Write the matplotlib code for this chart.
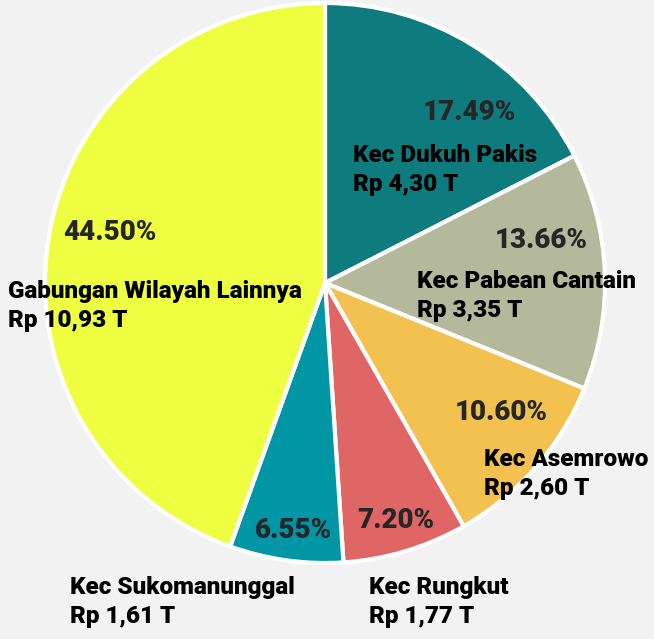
import matplotlib
matplotlib.use("Agg")
import matplotlib.pyplot as plt

# data
wilayah = ["Kec Dukuh Pakis", "Kec Pabean Cantain", "Kec Asemrowo",
           "Kec Rungkut", "Kec Sukomanunggal", "Gabungan Wilayah Lainnya"]
persen = [17.49, 13.66, 10.60, 7.20, 6.55, 44.50]
nilai = ["Rp 4,30 T", "Rp 3,35 T", "Rp 2,60 T", "Rp 1,77 T", "Rp 1,61 T", "Rp 10,93 T"]
warna = ["#0E7B7E", "#B3B99A", "#F2C14F", "#E06666", "#0096A6", "#EEFF41"]

# label layout (pixel positions in the 654x639 picture: left x, centre y)
pct_pos = [(423, 113), (495, 240), (455, 413), (357, 520), (255, 530), (63, 232)]
name_pos = [(353, 170), (417, 296), (484, 474), (369, 602), (70, 602), (8, 306)]

plt.rcParams["font.family"] = ["Roboto", "DejaVu Sans"]

W, H = 654, 639
CX, CY, R = 325, 283, 280

fig = plt.figure(figsize=(W / 100, H / 100), dpi=100, facecolor="#F2F2F2")
ax = fig.add_axes([(CX - R) / W, (H - CY - R) / H, 2 * R / W, 2 * R / H])
ax.set_facecolor("#F2F2F2")

ax.pie(persen, colors=warna, startangle=90, counterclock=False, radius=1,
       wedgeprops=dict(edgecolor="white", linewidth=3))
ax.set_xlim(-1, 1)
ax.set_ylim(-1, 1)
ax.set_aspect("equal")
ax.axis("off")


def px(x, y):
    return (x - CX) / R, (CY - y) / R


for i in range(len(wilayah)):
    x, y = px(*pct_pos[i])
    ax.text(x, y, f"{persen[i]:.2f}%", ha="left", va="center",
            fontsize=20, fontweight="heavy", color="#262626", clip_on=False)
    x, y = px(*name_pos[i])
    ax.text(x, y, wilayah[i] + "\n" + nilai[i], ha="left", va="center",
            fontsize=17.5, fontweight="heavy", color="black",
            linespacing=1.3, clip_on=False)

fig.savefig("out.png", dpi=100, facecolor=fig.get_facecolor())
plt.close(fig)
